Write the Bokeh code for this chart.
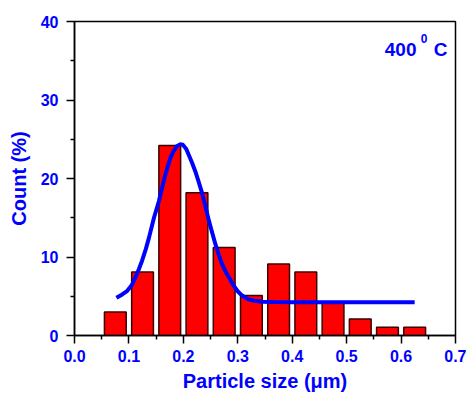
from bokeh.plotting import figure
from bokeh.models import FixedTicker, Label, Range1d
from bokeh.embed import file_html
from bokeh.resources import INLINE

# ---- data ----
bin_centers = [0.075, 0.125, 0.175, 0.225, 0.275, 0.325, 0.375, 0.425, 0.475, 0.525, 0.575, 0.625]
counts = [3.0, 8.1, 24.2, 18.2, 11.2, 5.1, 9.1, 8.1, 4.2, 2.1, 1.05, 1.05]

fit_x = [0.077, 0.087, 0.097, 0.105, 0.112, 0.118, 0.124, 0.131, 0.137, 0.146, 0.155, 0.164,
         0.170, 0.176, 0.182, 0.188, 0.194, 0.199, 0.205, 0.210, 0.216, 0.222, 0.228, 0.235,
         0.241, 0.247, 0.253, 0.259, 0.265, 0.271, 0.278, 0.284, 0.291, 0.299, 0.306, 0.313,
         0.320, 0.330, 0.345, 0.365, 0.400, 0.500, 0.625]
fit_y = [4.8, 5.2, 5.7, 6.4, 7.4, 8.4, 9.5, 11.0, 12.5, 15.0, 17.1, 19.7,
         21.2, 22.6, 23.5, 24.1, 24.35, 24.3, 23.8, 23.0, 22.0, 20.9, 19.6, 18.0,
         16.3, 14.6, 13.1, 11.6, 10.3, 9.1, 8.1, 7.4, 6.5, 5.7, 5.2, 4.85,
         4.6, 4.42, 4.3, 4.26, 4.25, 4.25, 4.25]

x_ticks = [0.0, 0.1, 0.2, 0.3, 0.4, 0.5, 0.6, 0.7]
x_tick_labels = ["0.0", "0.1", "0.2", "0.3", "0.4", "0.5", "0.6", "0.7"]
x_minor = [0.05, 0.15, 0.25, 0.35, 0.45, 0.55, 0.65]
y_ticks = [0, 10, 20, 30, 40]
y_tick_labels = ["0", "10", "20", "30", "40"]
y_minor = [5, 15, 25, 35]

BLUE = "#0000FF"
FONT = "Liberation Sans"

p = figure(width=466, height=394, output_backend="svg", toolbar_location=None,
           x_range=Range1d(0, 0.7), y_range=Range1d(0, 40),
           min_border_left=74, min_border_right=11, min_border_top=21, min_border_bottom=57)

p.xgrid.visible = False
p.ygrid.visible = False
p.background_fill_color = "white"
p.border_fill_color = "white"
p.outline_line_color = "black"
p.outline_line_width = 1.5

p.vbar(x=bin_centers, top=counts, width=0.04, bottom=0,
       fill_color="#FF0000", line_color="#3a0000", line_width=1.5)

p.line(fit_x, fit_y, line_color=BLUE, line_width=4, line_join="round")

# axes styling
for ax, ticks, labels, minor in ((p.xaxis[0], x_ticks, x_tick_labels, x_minor),
                                 (p.yaxis[0], y_ticks, y_tick_labels, y_minor)):
    ax.ticker = FixedTicker(ticks=ticks, minor_ticks=minor)
    ax.major_label_overrides = {t: l for t, l in zip(ticks, labels)}
    ax.axis_line_color = "black"
    ax.axis_line_width = 1.5
    ax.major_tick_line_color = "black"
    ax.major_tick_line_width = 1.5
    ax.minor_tick_line_color = "black"
    ax.minor_tick_line_width = 1.5
    ax.major_tick_out = 8
    ax.major_tick_in = 0
    ax.minor_tick_out = 4
    ax.minor_tick_in = 0
    ax.major_label_text_color = BLUE
    ax.major_label_text_font = FONT
    ax.major_label_text_font_style = "bold"
    ax.major_label_text_font_size = "16px"
    ax.axis_label_text_color = BLUE
    ax.axis_label_text_font = FONT
    ax.axis_label_text_font_style = "bold"
    ax.axis_label_text_font_size = "20px"

p.xaxis.axis_label = "Particle size (μm)"
p.yaxis.axis_label = "Count (%)"
p.xaxis.major_label_standoff = 6
p.xaxis.axis_label_standoff = 5
p.yaxis.major_label_standoff = 8
p.yaxis.axis_label_standoff = 8

# annotation 400^0 C
p.add_layout(Label(x=0.570, y=36.4, text="400", text_color=BLUE, text_font=FONT,
                   text_font_style="bold", text_font_size="19px",
                   text_align="left", text_baseline="alphabetic"))
p.add_layout(Label(x=0.636, y=37.8, text="0", text_color=BLUE, text_font=FONT,
                   text_font_style="bold", text_font_size="12px",
                   text_align="left", text_baseline="alphabetic"))
p.add_layout(Label(x=0.660, y=36.4, text="C", text_color=BLUE, text_font=FONT,
                   text_font_style="bold", text_font_size="19px",
                   text_align="left", text_baseline="alphabetic"))

open("out.html", "w").write(file_html(p, INLINE))
